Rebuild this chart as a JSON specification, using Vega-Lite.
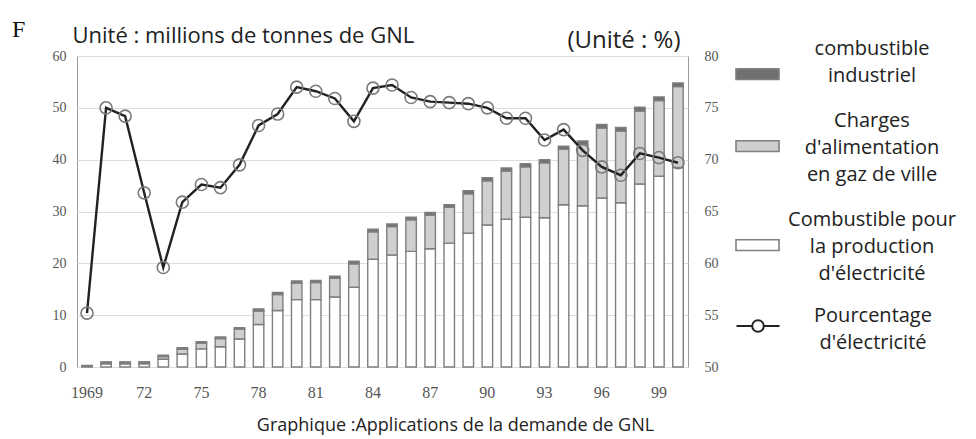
{
  "$schema": "https://vega.github.io/schema/vega-lite/v6.json",
  "width": 611,
  "height": 311,
  "autosize": "none",
  "padding": {"left": 77, "top": 56, "right": 288, "bottom": 72},
  "background": "white",
  "config": {
    "view": {"stroke": "#9a9a9a", "strokeWidth": 1},
    "style": {"guide-label": {"lineHeight": 27}},
    "axis": {"labelFont": "Liberation Serif", "labelFontSize": 14, "labelColor": "#555555", "ticks": false, "domain": false, "titleFontWeight": "normal", "titleFont": "Open Sans", "titleColor": "#222222"},
    "legend": {"labelFont": "Open Sans", "labelFontSize": 20, "labelColor": "#222222", "labelLimit": 400, "labelAlign": "center", "labelBaseline": "bottom", "labelOffset": 92, "symbolSize": 1850, "symbolOpacity": 1, "padding": 0, "rowPadding": 22}
  },
  "title": {"text": "F", "anchor": "start", "frame": "group", "font": "Liberation Serif", "fontSize": 24, "fontWeight": "normal", "color": "#111111", "dx": -65, "dy": 18, "offset": 0},
  "datasets": {
    "bars": [
      {"year": 1969, "type": "production d'électricité", "value": 0.2},
      {"year": 1969, "type": "gaz de ville", "value": 0.0},
      {"year": 1969, "type": "combustible industriel", "value": 0.1},
      {"year": 1970, "type": "production d'électricité", "value": 0.6},
      {"year": 1970, "type": "gaz de ville", "value": 0.2},
      {"year": 1970, "type": "combustible industriel", "value": 0.2},
      {"year": 1971, "type": "production d'électricité", "value": 0.6},
      {"year": 1971, "type": "gaz de ville", "value": 0.2},
      {"year": 1971, "type": "combustible industriel", "value": 0.2},
      {"year": 1972, "type": "production d'électricité", "value": 0.6},
      {"year": 1972, "type": "gaz de ville", "value": 0.2},
      {"year": 1972, "type": "combustible industriel", "value": 0.2},
      {"year": 1973, "type": "production d'électricité", "value": 1.5},
      {"year": 1973, "type": "gaz de ville", "value": 0.5},
      {"year": 1973, "type": "combustible industriel", "value": 0.3},
      {"year": 1974, "type": "production d'électricité", "value": 2.5},
      {"year": 1974, "type": "gaz de ville", "value": 0.9},
      {"year": 1974, "type": "combustible industriel", "value": 0.3},
      {"year": 1975, "type": "production d'électricité", "value": 3.5},
      {"year": 1975, "type": "gaz de ville", "value": 1.1},
      {"year": 1975, "type": "combustible industriel", "value": 0.3},
      {"year": 1976, "type": "production d'électricité", "value": 3.9},
      {"year": 1976, "type": "gaz de ville", "value": 1.6},
      {"year": 1976, "type": "combustible industriel", "value": 0.3},
      {"year": 1977, "type": "production d'électricité", "value": 5.4},
      {"year": 1977, "type": "gaz de ville", "value": 1.9},
      {"year": 1977, "type": "combustible industriel", "value": 0.3},
      {"year": 1978, "type": "production d'électricité", "value": 8.2},
      {"year": 1978, "type": "gaz de ville", "value": 2.6},
      {"year": 1978, "type": "combustible industriel", "value": 0.4},
      {"year": 1979, "type": "production d'électricité", "value": 10.9},
      {"year": 1979, "type": "gaz de ville", "value": 3.1},
      {"year": 1979, "type": "combustible industriel", "value": 0.4},
      {"year": 1980, "type": "production d'électricité", "value": 13.0},
      {"year": 1980, "type": "gaz de ville", "value": 3.2},
      {"year": 1980, "type": "combustible industriel", "value": 0.4},
      {"year": 1981, "type": "production d'électricité", "value": 13.0},
      {"year": 1981, "type": "gaz de ville", "value": 3.3},
      {"year": 1981, "type": "combustible industriel", "value": 0.4},
      {"year": 1982, "type": "production d'électricité", "value": 13.5},
      {"year": 1982, "type": "gaz de ville", "value": 3.6},
      {"year": 1982, "type": "combustible industriel", "value": 0.4},
      {"year": 1983, "type": "production d'électricité", "value": 15.4},
      {"year": 1983, "type": "gaz de ville", "value": 4.5},
      {"year": 1983, "type": "combustible industriel", "value": 0.5},
      {"year": 1984, "type": "production d'électricité", "value": 20.8},
      {"year": 1984, "type": "gaz de ville", "value": 5.3},
      {"year": 1984, "type": "combustible industriel", "value": 0.5},
      {"year": 1985, "type": "production d'électricité", "value": 21.6},
      {"year": 1985, "type": "gaz de ville", "value": 5.5},
      {"year": 1985, "type": "combustible industriel", "value": 0.5},
      {"year": 1986, "type": "production d'électricité", "value": 22.3},
      {"year": 1986, "type": "gaz de ville", "value": 6.1},
      {"year": 1986, "type": "combustible industriel", "value": 0.5},
      {"year": 1987, "type": "production d'électricité", "value": 22.8},
      {"year": 1987, "type": "gaz de ville", "value": 6.5},
      {"year": 1987, "type": "combustible industriel", "value": 0.5},
      {"year": 1988, "type": "production d'électricité", "value": 23.9},
      {"year": 1988, "type": "gaz de ville", "value": 6.9},
      {"year": 1988, "type": "combustible industriel", "value": 0.5},
      {"year": 1989, "type": "production d'électricité", "value": 25.8},
      {"year": 1989, "type": "gaz de ville", "value": 7.6},
      {"year": 1989, "type": "combustible industriel", "value": 0.6},
      {"year": 1990, "type": "production d'électricité", "value": 27.4},
      {"year": 1990, "type": "gaz de ville", "value": 8.5},
      {"year": 1990, "type": "combustible industriel", "value": 0.6},
      {"year": 1991, "type": "production d'électricité", "value": 28.5},
      {"year": 1991, "type": "gaz de ville", "value": 9.3},
      {"year": 1991, "type": "combustible industriel", "value": 0.6},
      {"year": 1992, "type": "production d'électricité", "value": 28.9},
      {"year": 1992, "type": "gaz de ville", "value": 9.7},
      {"year": 1992, "type": "combustible industriel", "value": 0.6},
      {"year": 1993, "type": "production d'électricité", "value": 28.8},
      {"year": 1993, "type": "gaz de ville", "value": 10.6},
      {"year": 1993, "type": "combustible industriel", "value": 0.6},
      {"year": 1994, "type": "production d'électricité", "value": 31.3},
      {"year": 1994, "type": "gaz de ville", "value": 10.7},
      {"year": 1994, "type": "combustible industriel", "value": 0.6},
      {"year": 1995, "type": "production d'électricité", "value": 31.1},
      {"year": 1995, "type": "gaz de ville", "value": 11.8},
      {"year": 1995, "type": "combustible industriel", "value": 0.7},
      {"year": 1996, "type": "production d'électricité", "value": 32.6},
      {"year": 1996, "type": "gaz de ville", "value": 13.5},
      {"year": 1996, "type": "combustible industriel", "value": 0.7},
      {"year": 1997, "type": "production d'électricité", "value": 31.7},
      {"year": 1997, "type": "gaz de ville", "value": 13.8},
      {"year": 1997, "type": "combustible industriel", "value": 0.7},
      {"year": 1998, "type": "production d'électricité", "value": 35.3},
      {"year": 1998, "type": "gaz de ville", "value": 14.1},
      {"year": 1998, "type": "combustible industriel", "value": 0.7},
      {"year": 1999, "type": "production d'électricité", "value": 36.8},
      {"year": 1999, "type": "gaz de ville", "value": 14.6},
      {"year": 1999, "type": "combustible industriel", "value": 0.7},
      {"year": 2000, "type": "production d'électricité", "value": 38.5},
      {"year": 2000, "type": "gaz de ville", "value": 15.6},
      {"year": 2000, "type": "combustible industriel", "value": 0.7}
    ],
    "pct": [
      {"year": 1969, "pct": 55.2}, {"year": 1970, "pct": 75.0}, {"year": 1971, "pct": 74.2},
      {"year": 1972, "pct": 66.8}, {"year": 1973, "pct": 59.6}, {"year": 1974, "pct": 65.9},
      {"year": 1975, "pct": 67.6}, {"year": 1976, "pct": 67.3}, {"year": 1977, "pct": 69.5},
      {"year": 1978, "pct": 73.3}, {"year": 1979, "pct": 74.4}, {"year": 1980, "pct": 77.0},
      {"year": 1981, "pct": 76.6}, {"year": 1982, "pct": 75.9}, {"year": 1983, "pct": 73.7},
      {"year": 1984, "pct": 76.9}, {"year": 1985, "pct": 77.2}, {"year": 1986, "pct": 76.0},
      {"year": 1987, "pct": 75.6}, {"year": 1988, "pct": 75.5}, {"year": 1989, "pct": 75.4},
      {"year": 1990, "pct": 75.0}, {"year": 1991, "pct": 74.0}, {"year": 1992, "pct": 74.0},
      {"year": 1993, "pct": 71.9}, {"year": 1994, "pct": 72.9}, {"year": 1995, "pct": 70.9},
      {"year": 1996, "pct": 69.3}, {"year": 1997, "pct": 68.5}, {"year": 1998, "pct": 70.6},
      {"year": 1999, "pct": 70.2}, {"year": 2000, "pct": 69.7}
    ]
  },
  "encoding": {
    "x": {
      "field": "year", "type": "ordinal",
      "scale": {"paddingInner": 0.45, "paddingOuter": 0.25},
      "axis": {
        "labelAngle": 0, "labelPadding": 17, "grid": false, "labelFontSize": 16,
        "labelExpr": "(toNumber(datum.value) - 1969) % 3 == 0 ? (toNumber(datum.value) == 1969 ? '1969' : substring(toString(datum.value), 2, 4)) : ''",
        "title": "Graphique :Applications de la demande de GNL",
        "titleFontSize": 18, "titleX": 378, "titleY": 58, "titleBaseline": "middle", "titleAlign": "center"
      }
    }
  },
  "layer": [
    {
      "data": {"name": "bars"},
      "mark": {"type": "bar", "stroke": "#7f7f7f", "strokeWidth": 1.4},
      "encoding": {
        "y": {
          "field": "value", "type": "quantitative", "stack": "zero",
          "scale": {"domain": [0, 60]},
          "axis": {
            "values": [0, 10, 20, 30, 40, 50, 60], "grid": true, "gridColor": "#dddddd", "labelPadding": 11,
            "title": "Unité : millions de tonnes de GNL", "titleAngle": 0, "titleAlign": "left", "titleBaseline": "middle",
            "titleX": -5, "titleY": -21, "titleFontSize": 22
          }
        },
        "order": {"field": "type", "sort": "descending"},
        "fill": {
          "field": "type", "type": "nominal",
          "scale": {
            "domain": ["combustible industriel", "gaz de ville", "production d'électricité"],
            "range": ["#707070", "#cfcfcf", "#ffffff"]
          },
          "legend": {
            "orient": "none", "legendX": 658, "legendY": -19.5, "title": null,
            "symbolType": "M-1,0.45H1V0.95H-1Z", "symbolStrokeColor": "#808080", "symbolStrokeWidth": 1.6,
            "labelExpr": "datum.label == 'combustible industriel' ? ['combustible', 'industriel'] : datum.label == 'gaz de ville' ? ['Charges', \"d'alimentation\", 'en gaz de ville'] : ['Combustible pour', 'la production', \"d'électricité\"]"
          }
        }
      }
    },
    {
      "data": {"name": "pct"},
      "mark": {"type": "line", "strokeWidth": 2.4},
      "encoding": {
        "y": {
          "field": "pct", "type": "quantitative",
          "scale": {"domain": [50, 80]},
          "axis": {
            "orient": "right", "values": [50, 55, 60, 65, 70, 75, 80], "grid": false, "labelPadding": 16,
            "title": "(Unité : %)", "titleAngle": 0, "titleAlign": "right", "titleBaseline": "middle",
            "titleX": -8, "titleY": -16, "titleFontSize": 24
          }
        },
        "stroke": {
          "datum": "Pourcentage d'électricité",
          "scale": {"range": ["#222222"]},
          "legend": {
            "orient": "none", "legendX": 658, "legendY": 247, "title": null,
            "symbolType": "M-1,0H-0.27M0.27,0H1M-0.27,0A0.27,0.27 0 1,1 0.27,0A0.27,0.27 0 1,1 -0.27,0",
            "symbolStrokeWidth": 2, "symbolFillColor": "transparent",
            "labelExpr": "['Pourcentage', \"d'électricité\"]"
          }
        }
      }
    },
    {
      "data": {"name": "pct"},
      "mark": {"type": "point", "shape": "circle", "filled": false, "size": 145, "stroke": "#7a7a7a", "strokeWidth": 1.6, "opacity": 1},
      "encoding": {
        "y": {"field": "pct", "type": "quantitative", "scale": {"domain": [50, 80]}, "axis": null}
      }
    }
  ],
  "resolve": {"scale": {"y": "independent"}}
}
